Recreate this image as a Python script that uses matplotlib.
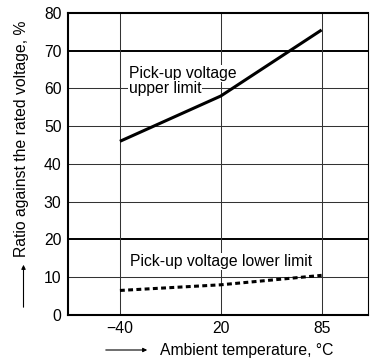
import matplotlib.pyplot as plt
import numpy as np

plt.rcParams['font.family'] = ['Liberation Sans', 'DejaVu Sans']
plt.rcParams['font.size'] = 11.3

# ambient temperature points (equally spaced on the chart)
temps = ['\u221240', '20', '85']
upper_limit = [46, 58, 75.5]
lower_limit = [6.5, 8, 10.5]
y_ticks = [0, 10, 20, 30, 40, 50, 60, 70, 80]
heavy_lines = [20, 70]

fig = plt.figure(figsize=(3.73, 3.60), dpi=100)
ax = fig.add_axes([0.1836, 0.125, 0.803, 0.839])

x = np.arange(len(temps))

# grid drawn by hand so some rows can be heavier
for yv in y_ticks[1:-1]:
    if yv in heavy_lines:
        ax.axhline(yv, color='black', lw=1.4, zorder=1)
    else:
        ax.axhline(yv, color='#333333', lw=0.75, zorder=1)
for xv in x:
    ax.axvline(xv, color='#333333', lw=0.75, zorder=1)

ax.plot(x, upper_limit, color='black', lw=2.2, solid_capstyle='butt', zorder=3)
ax.plot(x, lower_limit, color='black', lw=2.2, linestyle=(0, (1.6, 1.1)), zorder=3)

box = dict(facecolor='white', edgecolor='none', pad=0.6)
ax.text(0.09, 64.0, 'Pick-up voltage', ha='left', va='center', bbox=box, zorder=2)
ax.text(0.09, 60, 'upper limit', ha='left', va='center', bbox=box, zorder=2)
ax.text(0.1, 14.2, 'Pick-up voltage lower limit', ha='left', va='center', bbox=box, zorder=2)

ax.set_xlim(-0.51, 2.46)
ax.set_ylim(0, 80)
ax.set_xticks(x)
ax.set_xticklabels(temps)
ax.set_yticks(y_ticks)
ax.tick_params(length=0)
ax.tick_params(axis='y', pad=5)
ax.tick_params(axis='x', pad=4)

for side in ['left', 'bottom', 'top']:
    ax.spines[side].set_linewidth(1.5)
ax.spines['right'].set_linewidth(0.8)

# axis titles with leading arrows
fig.text(22 / 373, 1 - 139 / 360, 'Ratio against the rated voltage, %',
         rotation=90, ha='center', va='center')
fig.text(160 / 373, 1 - 350 / 360, 'Ambient temperature, \u00b0C',
         ha='left', va='center')
arrow = dict(arrowstyle='-|>', lw=0.8, color='black', mutation_scale=6)
fig.add_artist(plt.Annotation('', xy=(23.5 / 373, 1 - 262 / 360),
                              xytext=(23.5 / 373, 1 - 310 / 360),
                              xycoords='figure fraction', arrowprops=arrow))
fig.add_artist(plt.Annotation('', xy=(150 / 373, 1 - 350 / 360),
                              xytext=(103 / 373, 1 - 350 / 360),
                              xycoords='figure fraction', arrowprops=arrow))

plt.savefig('out.png', dpi=100)
